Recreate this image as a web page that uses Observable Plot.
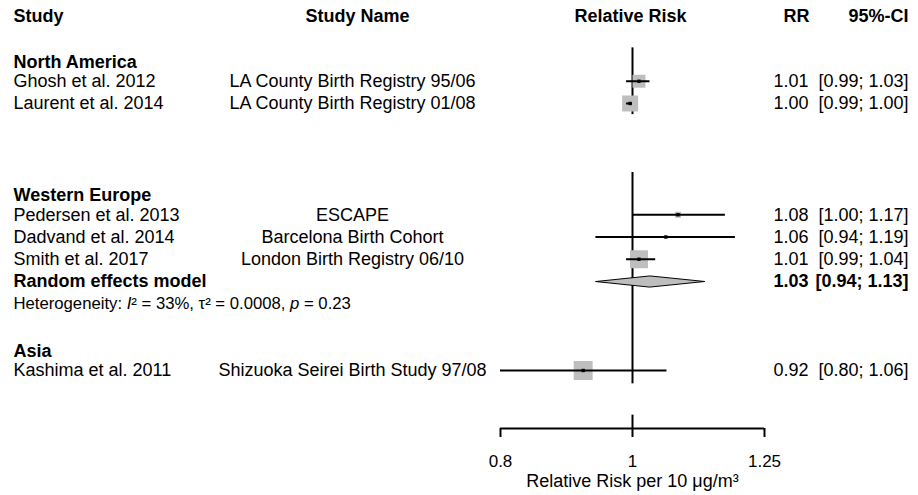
<!DOCTYPE html>
<html><head><meta charset="utf-8">
<script src="https://cdn.jsdelivr.net/npm/d3@7"></script>
<script src="https://cdn.jsdelivr.net/npm/@observablehq/plot@0.6"></script>
<style>body{margin:0;background:#fff;} svg{display:block}</style>
</head><body><div id="chart"></div>
<script>
// ---- data ----
const regions = ["North America", "Western Europe", "Asia"];
const studyRegion = ["North America", "North America", "Western Europe", "Western Europe", "Western Europe", "Asia"];
const studies = ["Ghosh et al. 2012", "Laurent et al. 2014", "Pedersen et al. 2013", "Dadvand et al. 2014", "Smith et al. 2017", "Kashima et al. 2011"];
const studyNames = ["LA County Birth Registry 95/06", "LA County Birth Registry 01/08", "ESCAPE", "Barcelona Birth Cohort", "London Birth Registry 06/10", "Shizuoka Seirei Birth Study 97/08"];
const rr = [1.011, 0.996, 1.08, 1.058, 1.011, 0.92];
const lower = [0.99, 0.99, 1.00, 0.94, 0.99, 0.80];
const upper = [1.03, 1.00, 1.17, 1.19, 1.04, 1.06];
const weight = [42, 64, 9, 2, 81, 90];
const pooledRegion = "Western Europe";
const pooledRR = 1.03, pooledLower = 0.94, pooledUpper = 1.13;
const hetI2 = 33, hetTau2 = 0.0008, hetP = 0.23;
const xTicks = [0.8, 1, 1.25];
const refValue = 1;
const headers = ["Study", "Study Name", "Relative Risk", "RR", "95%-CI"];
const xLabel = "Relative Risk per 10 μg/m³";

// ---- layout rows ----
const gapAfter = {"North America": 3, "Western Europe": 1, "Asia": 0};
let r = 0;
const labelRows = [], rowsData = [], groupSpan = [];
let pooledRow, hetRow;
for (const g of regions) {
  const start = r;
  labelRows.push({text: g, row: r}); r++;
  studies.forEach((s, i) => {
    if (studyRegion[i] === g) {
      rowsData.push({study: s, name: studyNames[i], rr: rr[i], lo: lower[i], hi: upper[i], w: weight[i], row: r});
      r++;
    }
  });
  if (g === pooledRegion) { pooledRow = r++; hetRow = r++; }
  groupSpan.push({start, end: r - 1});
  r += gapAfter[g];
}
const yMax = 16.607;
const refSegments = [
  {y1: groupSpan[0].start - 0.5, y2: groupSpan[0].end + 0.5},
  {y1: groupSpan[1].start - 0.9, y2: groupSpan[2].end + 0.6}
];
const H = 0.25;
const diamond = [
  {x: pooledLower, y: pooledRow}, {x: pooledRR, y: pooledRow - H},
  {x: pooledUpper, y: pooledRow}, {x: pooledRR, y: pooledRow + H}
];
const fmt = d3.format(".2f");
const F = 18;
const LEFT = -487, NAME = -148, RRX = 44, CIX = 144;

const marks = [
  Plot.ruleX(refSegments, {x: () => refValue, y1: "y1", y2: "y2", stroke: "#000", strokeWidth: 2}),
  Plot.dot(rowsData, {x: "rr", y: "row", r: "w", symbol: "square", fill: "#bebebe", stroke: null}),
  Plot.ruleY(rowsData, {y: "row", x1: "lo", x2: "hi", stroke: "#000", strokeWidth: 2}),
  Plot.dot(rowsData, {x: "rr", y: "row", r: 1.9, symbol: "square", fill: "#000"}),
  Plot.line(diamond, {x: "x", y: "y", curve: "linear-closed", fill: "#bebebe", stroke: "#000", strokeWidth: 1}),
  // axis
  Plot.ruleY([yMax], {x1: () => xTicks[0], x2: () => xTicks[xTicks.length - 1], stroke: "#000", strokeWidth: 2}),
  Plot.ruleX([refValue], {y1: () => yMax - 0.6, y2: () => yMax, stroke: "#000", strokeWidth: 2}),
  Plot.axisX({ticks: xTicks, tickFormat: d => String(d), tickSize: 9, tickPadding: 17, fontSize: 17, label: null, stroke: "#000", strokeWidth: 2, fill: "#000"}),
  Plot.text([xLabel], {x: () => refValue, frameAnchor: "bottom", lineAnchor: "middle", text: d => d, dy: 53, fontSize: F, fill: "#000"}),
  // headers
  Plot.text([headers[0]], {y: () => -2, text: d => d, frameAnchor: "left", dx: LEFT, textAnchor: "start", fontWeight: "bold", fontSize: F, fill: "#000", dy: 2}),
  Plot.text([headers[1]], {y: () => -2, text: d => d, frameAnchor: "left", dx: NAME + 5, textAnchor: "middle", fontWeight: "bold", fontSize: F, fill: "#000", dy: 2}),
  Plot.text([headers[2]], {y: () => -2, x: () => refValue, text: d => d, dx: -2, textAnchor: "middle", fontWeight: "bold", fontSize: F, fill: "#000", dy: 2}),
  Plot.text([headers[3]], {y: () => -2, text: d => d, frameAnchor: "right", dx: 32, textAnchor: "middle", fontWeight: "bold", fontSize: F, fill: "#000", dy: 2}),
  Plot.text([headers[4]], {y: () => -2, text: d => d, frameAnchor: "right", dx: CIX, textAnchor: "end", fontWeight: "bold", fontSize: F, fill: "#000", dy: 2}),
  // group labels
  Plot.text(labelRows, {y: "row", text: "text", frameAnchor: "left", dx: LEFT, textAnchor: "start", fontWeight: "bold", fontSize: F, fill: "#000", dy: 3}),
  // study rows
  Plot.text(rowsData, {y: "row", text: "study", frameAnchor: "left", dx: LEFT, textAnchor: "start", fontSize: F, fill: "#000"}),
  Plot.text(rowsData, {y: "row", text: "name", frameAnchor: "left", dx: NAME, textAnchor: "middle", fontSize: F, fill: "#000"}),
  Plot.text(rowsData, {y: "row", text: d => fmt(d.rr), frameAnchor: "right", dx: RRX, textAnchor: "end", fontSize: F, fill: "#000"}),
  Plot.text(rowsData, {y: "row", text: d => `[${fmt(d.lo)}; ${fmt(d.hi)}]`, frameAnchor: "right", dx: CIX, textAnchor: "end", fontSize: F, fill: "#000"}),
  // pooled
  Plot.text(["Random effects model"], {y: () => pooledRow, text: d => d, frameAnchor: "left", dx: LEFT, textAnchor: "start", fontWeight: "bold", fontSize: F, fill: "#000"}),
  Plot.text([pooledRR], {y: () => pooledRow, text: d => fmt(d), frameAnchor: "right", dx: RRX, textAnchor: "end", fontWeight: "bold", fontSize: F, fill: "#000"}),
  Plot.text([[pooledLower, pooledUpper]], {y: () => pooledRow, text: d => `[${fmt(d[0])}; ${fmt(d[1])}]`, frameAnchor: "right", dx: CIX, textAnchor: "end", fontWeight: "bold", fontSize: F, fill: "#000"}),
  Plot.text([`Heterogeneity: I² = ${hetI2}%, τ² = ${hetTau2}, p = ${hetP}`], {y: () => hetRow, text: d => d, frameAnchor: "left", dx: LEFT, textAnchor: "start", fontSize: 16.7, fill: "#000"})
];

const plot = Plot.plot({
  width: 918, height: 495,
  marginLeft: 500, marginRight: 154, marginTop: 14, marginBottom: 67,
  x: {type: "log", domain: [xTicks[0], xTicks[xTicks.length - 1]], axis: null},
  y: {domain: [-2, yMax], reverse: true, axis: null},
  r: {type: "sqrt", domain: [0, 100], range: [0, 11.28]},
  style: {fontFamily: "'Liberation Sans', Arial, sans-serif", color: "#000", background: "#fff", overflow: "visible"},
  marks
});
document.getElementById("chart").appendChild(plot);

// italic I and p in heterogeneity line
const het = [...plot.querySelectorAll("text")].find(t => t.textContent.startsWith("Heterogeneity"));
if (het) {
  const parts = [["Heterogeneity: ", false], ["I", true], [`² = ${hetI2}%, τ² = ${hetTau2}, `, false], ["p", true], [` = ${hetP}`, false]];
  het.textContent = "";
  for (const [s, it] of parts) {
    const ts = document.createElementNS("http://www.w3.org/2000/svg", "tspan");
    ts.textContent = s;
    if (it) ts.setAttribute("font-style", "italic");
    het.appendChild(ts);
  }
}
</script>
</body></html>
